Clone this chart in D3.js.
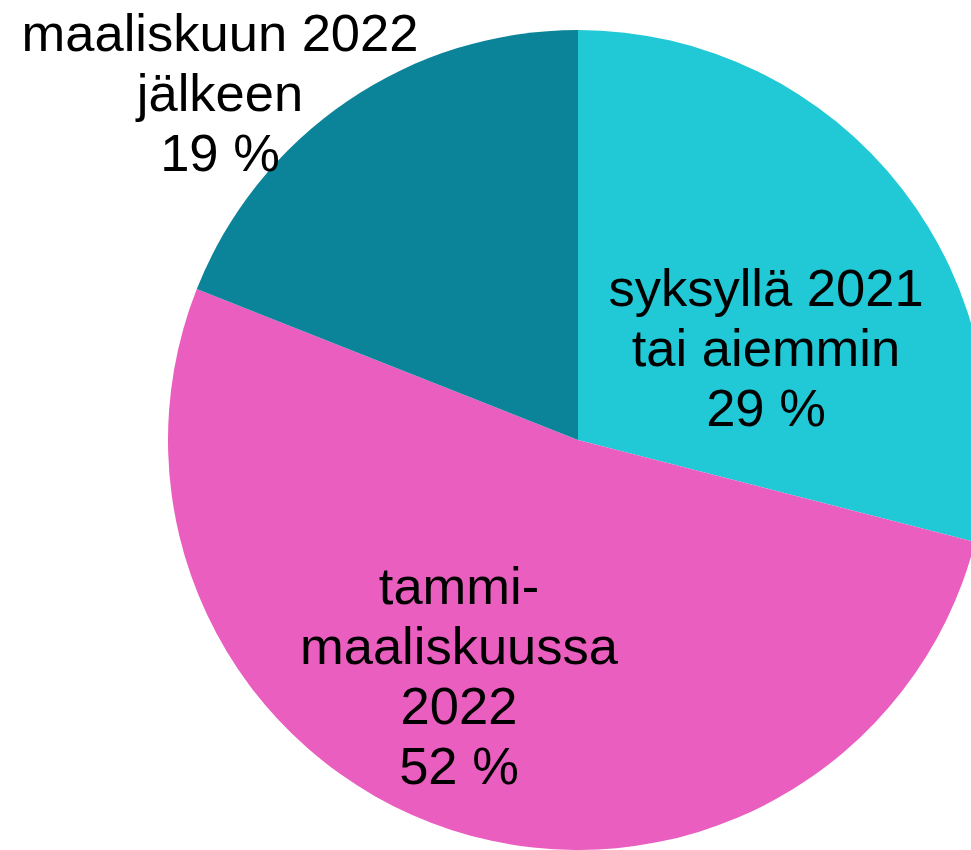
<!DOCTYPE html>
<html>
<head>
<meta charset="utf-8">
<script src="https://cdn.jsdelivr.net/npm/d3@7"></script>
<style>
  body { margin: 0; background: #fff; }
  svg { display: block; }
  .label { font-family: "Liberation Sans", Arial, sans-serif; font-size: 52.5px; fill: #000; }
</style>
</head>
<body>
<div id="chart"></div>
<script>
// data
const categories = ["syksyllä 2021 tai aiemmin", "tammi-maaliskuussa 2022", "maaliskuun 2022 jälkeen"];
const values = [29, 52, 19];
const labelLines = [
    ["syksyllä 2021", "tai aiemmin", "29 %"],
    ["tammi-", "maaliskuussa", "2022", "52 %"],
    ["maaliskuun 2022", "jälkeen", "19 %"]
];
const colors = ["#20C9D5", "#E95EBE", "#0B8399"];

let width = 971, height = 850;
let cx = 578, cy = 440, radius = 410;

// label anchor (centre x, first baseline y)
let labelPos = [[766, 306], [459, 604], [220, 51]];
let lineH = 60;

let svg = d3.select("#chart").append("svg")
    .attr("width", width)
    .attr("height", height);

let pie = d3.pie().sort(null).value(d => d);
let arc = d3.arc().innerRadius(0).outerRadius(radius);

let g = svg.append("g")
    .attr("transform", "translate(" + cx + "," + cy + ")");

g.selectAll("path")
    .data(pie(values))
    .enter().append("path")
    .attr("d", arc)
    .attr("fill", (d, i) => colors[i]);

// labels
let labels = svg.append("g");
labelLines.forEach((lines, i) => {
    let t = labels.append("text")
        .attr("class", "label")
        .attr("text-anchor", "middle")
        .attr("x", labelPos[i][0])
        .attr("y", labelPos[i][1]);
    lines.forEach((s, j) => {
        t.append("tspan")
            .attr("x", labelPos[i][0])
            .attr("y", labelPos[i][1] + j * lineH)
            .text(s);
    });
});
</script>
</body>
</html>
